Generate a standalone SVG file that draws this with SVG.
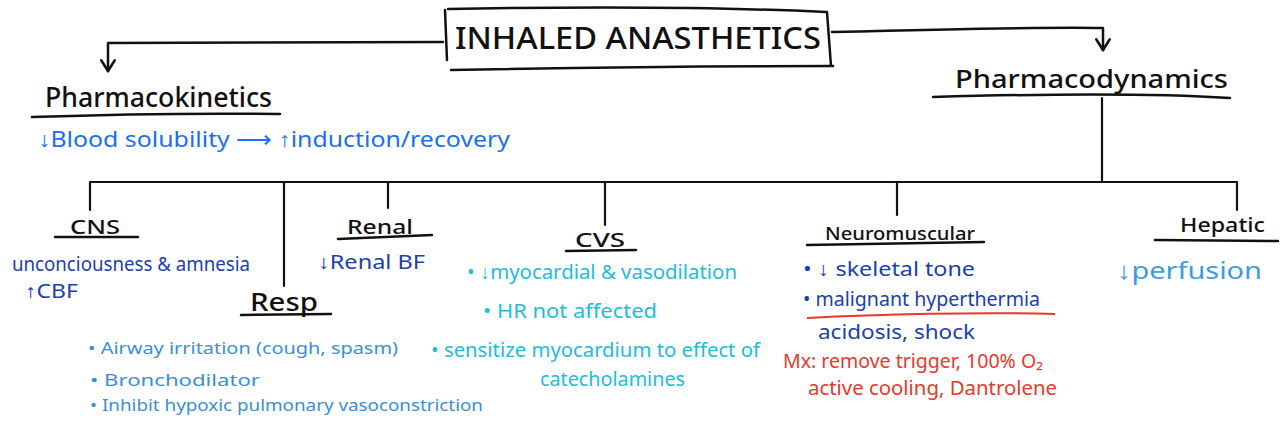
<svg xmlns="http://www.w3.org/2000/svg" width="1286" height="432" viewBox="0 0 1286 432">
<style>
text{font-family:"Noto Sans","Liberation Sans",sans-serif;}
.hd{fill:#111;font-weight:500;}
.ln{stroke:#111;stroke-width:2.5;fill:none;stroke-linecap:round;stroke-linejoin:round;}
.bus{stroke:#111;stroke-width:2.2;fill:none;stroke-linecap:round;}
.pk{fill:#1b6ff2;font-size:21px;}
.dk{fill:#1c40ad;font-size:19px;}
.rs{fill:#3a8fd8;font-size:17px;}
.cv{fill:#22bcdb;font-size:19px;}
.hp{fill:#3d9ce0;font-size:24px;}
.rd{fill:#e8392b;font-size:19px;}
</style>
<defs>
<marker id="arr" viewBox="0 0 12 12" refX="10" refY="6" markerWidth="16" markerHeight="16" markerUnits="userSpaceOnUse" orient="auto">
<path d="M2,1 L10,6 L2,11" fill="none" stroke="#111" stroke-width="2" stroke-linecap="round" stroke-linejoin="round"/>
</marker>
</defs>

<g id="title">
<path class="ln" d="M448,9 C560,7 700,6 826,12 M445,10 L447,60 M827,12 L831,66 M451,70 C600,67 720,66 833,66" stroke-width="3"/>
<text class="hd" x="455" y="49" font-size="30" textLength="366" lengthAdjust="spacingAndGlyphs">INHALED ANASTHETICS</text>
</g>

<g id="connectors">
<path class="ln" d="M443,42 L108,43 L108,71" marker-end="url(#arr)"/>
<path class="ln" d="M832,32 C950,29 1050,27 1103,28 L1103,50" marker-end="url(#arr)"/>
<path class="bus" d="M1102,98 L1102,182"/>
<path class="bus" d="M90,182 L1237,182"/>
<path class="bus" d="M90,182 L90,210 M284,182 L284,286 M388,182 L388,208 M605,182 L605,225 M897,182 L897,215 M1237,182 L1237,210"/>
</g>

<g id="pharmacokinetics">
<text class="hd" x="45" y="107" font-size="27" textLength="227" lengthAdjust="spacingAndGlyphs">Pharmacokinetics</text>
<path class="ln" d="M32,117 C120,114 200,113 280,114"/>
<text class="pk" x="38" y="147" textLength="472" lengthAdjust="spacingAndGlyphs">↓Blood solubility ⟶ ↑induction/recovery</text>
</g>

<g id="pharmacodynamics">
<text class="hd" x="955" y="88" font-size="26" textLength="273" lengthAdjust="spacingAndGlyphs">Pharmacodynamics</text>
<path class="ln" d="M933,97 C1040,94 1150,93 1230,98"/>
</g>

<g id="cns">
<text class="hd" x="70" y="234" font-size="20" textLength="50" lengthAdjust="spacingAndGlyphs">CNS</text>
<path class="ln" d="M55,237 L138,237"/>
<text class="dk" x="12" y="271" textLength="238" lengthAdjust="spacingAndGlyphs">unconciousness &amp; amnesia</text>
<text class="dk" x="25" y="298" textLength="53" lengthAdjust="spacingAndGlyphs">↑CBF</text>
</g>

<g id="resp">
<text class="hd" x="250" y="311" font-size="26" textLength="68" lengthAdjust="spacingAndGlyphs">Resp</text>
<path class="ln" d="M241,315 L331,314"/>
<text class="rs" x="88" y="354" textLength="310" lengthAdjust="spacingAndGlyphs">• Airway irritation (cough, spasm)</text>
<text class="rs" x="90" y="386" textLength="170" lengthAdjust="spacingAndGlyphs">• Bronchodilator</text>
<text class="rs" x="90" y="411" textLength="393" lengthAdjust="spacingAndGlyphs">• Inhibit hypoxic pulmonary vasoconstriction</text>
</g>

<g id="renal">
<text class="hd" x="347" y="234" font-size="20" textLength="66" lengthAdjust="spacingAndGlyphs">Renal</text>
<path class="ln" d="M338,239 L432,235"/>
<text class="dk" x="318" y="269" textLength="107" lengthAdjust="spacingAndGlyphs">↓Renal BF</text>
</g>

<g id="cvs">
<text class="hd" x="575" y="247" font-size="20" textLength="50" lengthAdjust="spacingAndGlyphs">CVS</text>
<path class="ln" d="M566,251 L636,250"/>
<text class="cv" x="467" y="279" textLength="270" lengthAdjust="spacingAndGlyphs">• ↓myocardial &amp; vasodilation</text>
<text class="cv" x="483" y="318" textLength="174" lengthAdjust="spacingAndGlyphs">• HR not affected</text>
<text class="cv" x="431" y="357" textLength="329" lengthAdjust="spacingAndGlyphs">• sensitize myocardium to effect of</text>
<text class="cv" x="540" y="386" textLength="145" lengthAdjust="spacingAndGlyphs">catecholamines</text>
</g>

<g id="neuromuscular">
<text class="hd" x="825" y="240" font-size="18" textLength="150" lengthAdjust="spacingAndGlyphs">Neuromuscular</text>
<path class="ln" d="M807,245 L984,242"/>
<text class="dk" x="803" y="276" textLength="172" lengthAdjust="spacingAndGlyphs">• ↓ skeletal tone</text>
<text class="dk" x="803" y="306" textLength="237" lengthAdjust="spacingAndGlyphs">• malignant hyperthermia</text>
<path d="M807,318 C880,314 980,312 1055,314" stroke="#e8392b" stroke-width="2" fill="none"/>
<text class="dk" x="818" y="339" textLength="157" lengthAdjust="spacingAndGlyphs">acidosis, shock</text>
<text class="rd" x="783" y="368" textLength="260" lengthAdjust="spacingAndGlyphs">Mx: remove trigger, 100% O₂</text>
<text class="rd" x="808" y="395" textLength="249" lengthAdjust="spacingAndGlyphs">active cooling, Dantrolene</text>
</g>

<g id="hepatic">
<text class="hd" x="1180" y="232" font-size="20" textLength="85" lengthAdjust="spacingAndGlyphs">Hepatic</text>
<path class="ln" d="M1155,240 L1278,241"/>
<text class="hp" x="1117" y="279" textLength="145" lengthAdjust="spacingAndGlyphs">↓perfusion</text>
</g>
</svg>
